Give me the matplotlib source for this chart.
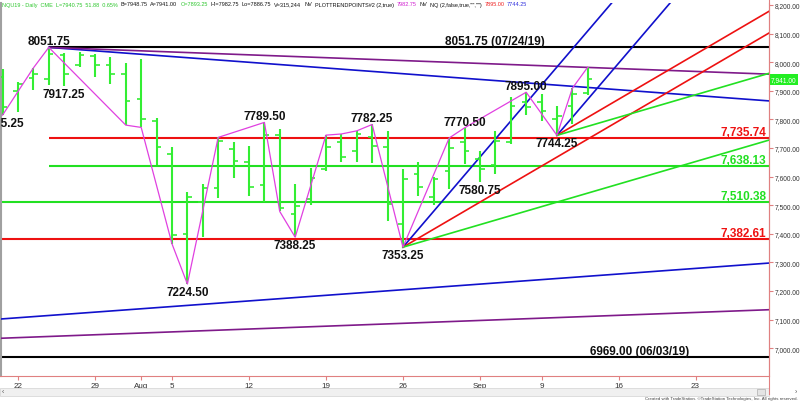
import matplotlib
matplotlib.use('Agg')
import matplotlib.pyplot as plt
import numpy as np
from matplotlib.transforms import blended_transform_factory, offset_copy
from matplotlib.patches import Rectangle
from matplotlib.lines import Line2D

plt.rcParams['font.family'] = ['Liberation Sans', 'DejaVu Sans']

# ---------------- data ----------------
bar_index = list(range(-1, 38))  # trading-day index, 0 = Jul 22 2019
opens = [7950, 7900, 7944, 7941, 8025, 7990, 8020, 7990, 7960, 7870,
         7795, 7680, 7400, 7510, 7560, 7695, 7652, 7570, 7745, 7469,
         7520, 7625, 7720, 7690, 7740, 7702, 7434, 7610, 7530, 7620,
         7720, 7660, 7640, 7720, 7860, 7860, 7800, 7848, 7893.25]
highs = [7976, 7932, 7980, 8051.75, 8032, 8037, 8029, 8017, 7998, 8011,
         7804, 7705, 7545, 7574, 7737, 7722, 7708, 7789.50, 7766, 7574,
         7629, 7745, 7749, 7760, 7782.25, 7760, 7627, 7650, 7597, 7735,
         7770.50, 7691, 7760, 7880, 7895.00, 7890, 7848, 7909, 7982.75]
lows = [7815.25, 7825, 7904, 7920, 7917.25, 7982, 7947, 7924, 7780, 7772,
        7640, 7365, 7224.50, 7390, 7524, 7594, 7531, 7512, 7478, 7388.25,
        7501, 7621, 7650, 7650, 7648, 7446, 7353.25, 7533, 7501, 7557,
        7644, 7580.75, 7609, 7714, 7815, 7795, 7744.25, 7784, 7886.75]
closes = [7845, 7925, 7960, 8029, 7960, 8025, 7990, 7960, 7865, 7800,
          7702, 7395, 7530, 7560, 7725, 7655, 7565, 7745, 7490, 7496,
          7594, 7705, 7667, 7749, 7708, 7504, 7590, 7563, 7590, 7700,
          7690, 7627, 7725, 7848, 7845, 7830, 7813, 7888.75, 7940.75]

# zigzag (PlotTrendPoints) vertices
zz_index = [-1, 1, 2, 7, 8, 10, 11, 13, 16, 17, 18, 20, 21, 22, 23, 25, 28, 29, 33, 35, 36, 37]
zz_price = [7815.25, 7980, 8051.75, 7780, 7772, 7365, 7224.50, 7737, 7789.50, 7478, 7388.25,
            7745, 7749, 7760, 7782.25, 7353.25, 7735, 7770.50, 7895.00, 7744.25, 7909, 7982.75]

# pivot labels
piv_index = [-1, 2, 3, 11, 16, 18, 23, 25, 29, 30, 33, 35]
piv_price = [7815.25, 8051.75, 7917.25, 7224.50, 7789.50, 7388.25, 7782.25, 7353.25,
             7770.50, 7580.75, 7895.00, 7744.25]
piv_side = ['below', 'above', 'below', 'below', 'above', 'below', 'above', 'below',
            'above', 'below', 'above', 'below']

# horizontal levels
level_values = [8051.75, 7735.74, 7638.13, 7510.38, 7382.61, 6969.00]
level_start = [2, 2, 2, None, None, None]
level_colors = ['#000000', '#EE1111', '#22E022', '#22E022', '#EE1111', '#000000']
right_labels = ['', '7,735.74', '7,638.13', '7,510.38', '7,382.61', '']
mid_labels = ['8051.75 (07/24/19)', '', '', '', '', '6969.00 (06/03/19)']
mid_label_index = [31, None, None, None, None, 40.4]

# sloped trend lines from the 8051.75 high
top_pivot = (2, 8051.75)
upper_blue_slope = -4.0
upper_purple_slope = -2.0
# lower channel lines (value at index 0, slope per bar)
lower_blue = (7106.5, 3.92)
lower_purple = (7037.0, 2.0)

# Gann-style fans
fan_index = [25, 35]
fan_price = [7353.25, 7744.25]
gann_slope = 31.5  # points per bar (1x1)

tick_pos = [0, 5, 8, 10, 15, 20, 25, 30, 34, 39, 44]
tick_lab = ['22', '29', 'Aug', '5', '12', '19', '26', 'Sep', '9', '16', '23']

last_price = 7941.00

header = [
    ("NQU19 - Daily  CME  L=7940.75  51.88  0.65%", '#2DC62D'),
    ("B=7948.75", '#111111'),
    ("A=7941.00", '#111111'),
    ("O=7893.25", '#2DC62D'),
    ("Hi=7982.75", '#111111'),
    ("Lo=7886.75", '#111111'),
    ("V=315,244", '#111111'),
    ("NV", '#111111'),
    ("PLOTTRENDPOINTS#2 (2,true)", '#111111'),
    ("7982.75", '#D020D0'),
    ("NV", '#111111'),
    ('NQ (2,false,true,"","")', '#111111'),
    ("7895.00", '#EE2222'),
    ("7744.25", '#3030DD'),
]

# ---------------- figure ----------------
W, H = 800, 402
fig = plt.figure(figsize=(8, 4.02), dpi=100)
ax = fig.add_axes([0.5 / W, 25 / H, 768.5 / W, 373 / H])
XL = (-1.136, 48.77)
YL = (6902.8, 8207)
ax.set_xlim(*XL)
ax.set_ylim(*YL)

bar_c = '#33EE33'
red = '#EE1111'
green = '#22E022'
blue = '#1010CC'
purple = '#7F1A8A'
magenta = '#E040E0'

# horizontal levels
for v, s, c in zip(level_values, level_start, level_colors):
    x0 = XL[0] if s is None else s
    ax.plot([x0, XL[1]], [v, v], color=c, lw=1.5, zorder=2, solid_capstyle='butt')

# sloped lines from top pivot
xs = np.array([top_pivot[0], XL[1]])
ax.plot(xs, top_pivot[1] + upper_blue_slope * (xs - top_pivot[0]), color=blue, lw=1.2, zorder=3)
ax.plot(xs, top_pivot[1] + upper_purple_slope * (xs - top_pivot[0]), color=purple, lw=1.2, zorder=3)

xs = np.array(XL)
ax.plot(xs, lower_blue[0] + lower_blue[1] * xs, color=blue, lw=1.2, zorder=3)
ax.plot(xs, lower_purple[0] + lower_purple[1] * xs, color=purple, lw=1.2, zorder=3)

# fans
for fi, fp in zip(fan_index, fan_price):
    xs = np.array([fi, XL[1]])
    for mult, c in [(2.0, blue), (1.0, red), (0.5, green)]:
        ax.plot(xs, fp + mult * gann_slope * (xs - fi), color=c, lw=1.2, zorder=3)

# OHLC bars
bi = np.array(bar_index, dtype=float)
ax.vlines(bi, lows, highs, color=bar_c, lw=1.5, zorder=4)
ax.hlines(opens, bi - 0.3, bi, color=bar_c, lw=1.2, zorder=4)
ax.hlines(closes, bi, bi + 0.3, color=bar_c, lw=1.2, zorder=4)

# zigzag
ax.plot(zz_index, zz_price, color=magenta, lw=0.9, zorder=5)

# pivot labels
for i, p, s in zip(piv_index, piv_price, piv_side):
    if s == 'above':
        tr = offset_copy(ax.transData, fig=fig, y=0.0, units='points')
        ax.text(i, p, f"{p:.2f}", ha='center', va='bottom', fontsize=8.5, fontweight='bold',
                color='#111111', transform=tr, zorder=6, clip_on=True)
    else:
        tr = offset_copy(ax.transData, fig=fig, y=-1.5, units='points')
        ax.text(i, p, f"{p:.2f}", ha='center', va='top', fontsize=8.5, fontweight='bold',
                color='#111111', transform=tr, zorder=6, clip_on=True)

# level labels
bt = blended_transform_factory(ax.transAxes, ax.transData)
for v, lab, c in zip(level_values, right_labels, level_colors):
    if lab:
        ax.text(0.9965, v, lab, ha='right', va='bottom', fontsize=8.5, fontweight='bold',
                color=c, transform=bt, zorder=6)
for v, lab, mi in zip(level_values, mid_labels, mid_label_index):
    if lab:
        ax.text(mi, v, lab, ha='center', va='bottom', fontsize=8.5, fontweight='bold',
                color='#111111', zorder=6)

# axes styling
ax.yaxis.tick_right()
yt = np.arange(7000, 8201, 100)
ax.set_yticks(yt)
ax.set_yticklabels([f"{v:,.2f}" for v in yt])
ax.tick_params(axis='y', direction='out', length=3, width=0.8, color='#E08080',
               labelsize=4.8, labelcolor='#333333', pad=0.8)
ax.set_xticks(tick_pos)
ax.set_xticklabels(tick_lab)
ax.tick_params(axis='x', direction='out', length=3, width=0.8, color='#E08080',
               labelsize=5.8, labelcolor='#333333', pad=1.5)
ax.spines['top'].set_visible(False)
ax.spines['right'].set_color('#E08080')
ax.spines['bottom'].set_color('#E08080')
ax.spines['left'].set_color('#A0A0A0')
ax.spines['left'].set_linewidth(1.5)

# last price tag
ax.text(1.002, last_price, f"{last_price:,.2f}", transform=bt, ha='left', va='center',
        fontsize=4.8, color='white', zorder=7, clip_on=False,
        bbox=dict(boxstyle='square,pad=0.3', fc='#22EE22', ec='none'))

# right vertical line extending below axes
fig.add_artist(Line2D([769 / W, 769 / W], [7 / H, 1], color='#E08080', lw=0.8))

# header: chained texts
renderer = fig.canvas.get_renderer()
xpix = 2.0
for txt, c in header:
    t = fig.text(xpix / W, 1 - 5 / H, txt, color=c, fontsize=4.0, ha='left', va='center')
    bb = t.get_window_extent(renderer=renderer)
    xpix = bb.x1 + 2.8

# scrollbar
fig.add_artist(Rectangle((0, 5 / H), 769 / W, 8 / H, transform=fig.transFigure,
                         fc='#F0F0F0', ec='#D8D8D8', lw=0.6))
fig.add_artist(Rectangle((757 / W, 6 / H), 8 / W, 6 / H, transform=fig.transFigure,
                         fc='#E4E4E4', ec='#B8B8B8', lw=0.6))
fig.text(3 / W, 9 / H, '‹', fontsize=5, color='#555555', ha='center', va='center')
fig.text(796 / W, 9 / H, '›', fontsize=5, color='#555555', ha='center', va='center')
fig.text(798 / W, 2.5 / H, "Created with TradeStation. \u00a9TradeStation Technologies, Inc. All rights reserved.",
         fontsize=3.2, color='#444444', ha='right', va='center')

fig.savefig('out.png', dpi=100)
